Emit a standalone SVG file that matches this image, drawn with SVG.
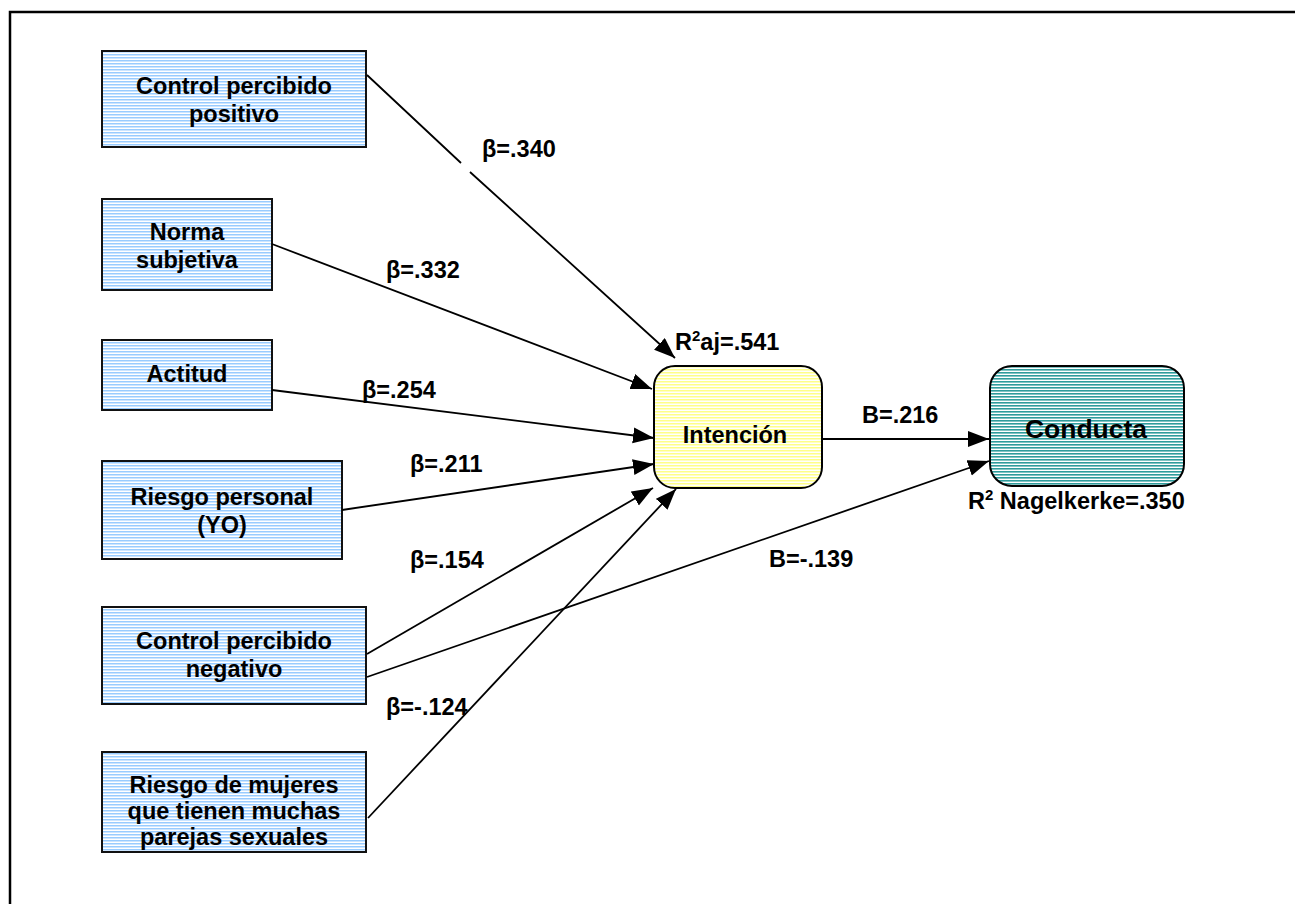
<svg xmlns="http://www.w3.org/2000/svg" width="1295" height="904" viewBox="0 0 1295 904">
  <defs>
    <pattern id="stripeBlue" width="8" height="3" patternUnits="userSpaceOnUse">
      <rect width="8" height="3" fill="#ffffff"/>
      <rect width="8" height="1.5" fill="#99ccff"/>
    </pattern>
    <pattern id="stripeYellow" width="8" height="3" patternUnits="userSpaceOnUse">
      <rect width="8" height="3" fill="#ffffff"/>
      <rect width="8" height="1.5" fill="#ffff88"/>
    </pattern>
    <pattern id="stripeTeal" width="8" height="3" patternUnits="userSpaceOnUse">
      <rect width="8" height="3" fill="#ffffff"/>
      <rect width="8" height="1.6" fill="#2f9c9c"/>
    </pattern>
    <marker id="arrow" markerUnits="userSpaceOnUse" markerWidth="22" markerHeight="17" refX="21" refY="8" orient="auto">
      <path d="M0,0 L21,8 L0,16 z" fill="#000"/>
    </marker>
  </defs>
  <style>
    text { font-family: "Liberation Sans", Arial, sans-serif; font-weight: bold; font-size: 23.5px; fill: #000; }
    .mid { text-anchor: middle; }
    .box { fill: url(#stripeBlue); stroke: #111; stroke-width: 2; }
    .conn { fill: none; stroke: #000; stroke-width: 1.8; }
    .sup { font-size: 15px; }
  </style>

  <rect width="1295" height="904" fill="#ffffff"/>
  <!-- page frame (right and bottom edges fall outside the sheet) -->
  <rect x="10" y="12" width="1300" height="900" fill="none" stroke="#000" stroke-width="2.5"/>

  <!-- predictors -->
  <g id="control-positivo">
    <rect class="box" x="102" y="51" width="264" height="96"/>
    <text class="mid" x="234" y="94">Control percibido</text>
    <text class="mid" x="234" y="122">positivo</text>
  </g>
  <g id="norma-subjetiva">
    <rect class="box" x="102" y="199" width="170" height="91"/>
    <text class="mid" x="187" y="240">Norma</text>
    <text class="mid" x="187" y="268">subjetiva</text>
  </g>
  <g id="actitud">
    <rect class="box" x="102" y="340" width="170" height="70"/>
    <text class="mid" x="187" y="382">Actitud</text>
  </g>
  <g id="riesgo-personal">
    <rect class="box" x="102" y="461" width="240" height="98"/>
    <text class="mid" x="222" y="505">Riesgo personal</text>
    <text class="mid" x="222" y="533">(YO)</text>
  </g>
  <g id="control-negativo">
    <rect class="box" x="102" y="607" width="264" height="97"/>
    <text class="mid" x="234" y="649">Control percibido</text>
    <text class="mid" x="234" y="677">negativo</text>
  </g>
  <g id="riesgo-mujeres">
    <rect class="box" x="102" y="752" width="264" height="100"/>
    <text class="mid" x="234" y="793">Riesgo de mujeres</text>
    <text class="mid" x="234" y="819">que tienen muchas</text>
    <text class="mid" x="234" y="845">parejas sexuales</text>
  </g>

  <!-- mediator and outcome -->
  <g id="intencion">
    <rect x="654" y="366" width="168" height="122" rx="21" ry="21" fill="url(#stripeYellow)" stroke="#000" stroke-width="2"/>
    <text class="mid" x="735" y="443">Intención</text>
  </g>
  <g id="conducta">
    <rect x="990" y="366" width="194" height="120" rx="22" ry="22" fill="url(#stripeTeal)" stroke="#000" stroke-width="2"/>
    <text class="mid" x="1086" y="438" style="font-size:26.5px">Conducta</text>
  </g>

  <!-- paths -->
  <g id="connectors">
    <path class="conn" d="M367,75 L461,163 M470,172 L675,358" stroke-width="2.4" marker-end="url(#arrow)"/>
    <path class="conn" d="M272,244 L652,389" marker-end="url(#arrow)"/>
    <path class="conn" d="M272,390 L654,438" marker-end="url(#arrow)"/>
    <path class="conn" d="M342,510 L654,464" marker-end="url(#arrow)"/>
    <path class="conn" d="M367,654 L653,488" marker-end="url(#arrow)"/>
    <path class="conn" d="M367,677 L989,461" marker-end="url(#arrow)"/>
    <path class="conn" d="M368,818 L676,489" marker-end="url(#arrow)"/>
    <path class="conn" d="M822,439 L989,439" marker-end="url(#arrow)"/>
  </g>

  <!-- coefficients -->
  <g id="labels">
    <text x="482" y="157">β=.340</text>
    <text x="386" y="278">β=.332</text>
    <text x="362" y="398">β=.254</text>
    <text x="410" y="472">β=.211</text>
    <text x="410" y="568">β=.154</text>
    <text x="386" y="715">β=-.124</text>
    <text x="862" y="423">B=.216</text>
    <text x="769" y="567">B=-.139</text>
    <text x="675" y="350">R<tspan class="sup" dy="-9">2</tspan><tspan dy="9">aj=.541</tspan></text>
    <text x="968" y="509">R<tspan class="sup" dy="-9">2</tspan><tspan dy="9"> Nagelkerke=.350</tspan></text>
  </g>
</svg>
